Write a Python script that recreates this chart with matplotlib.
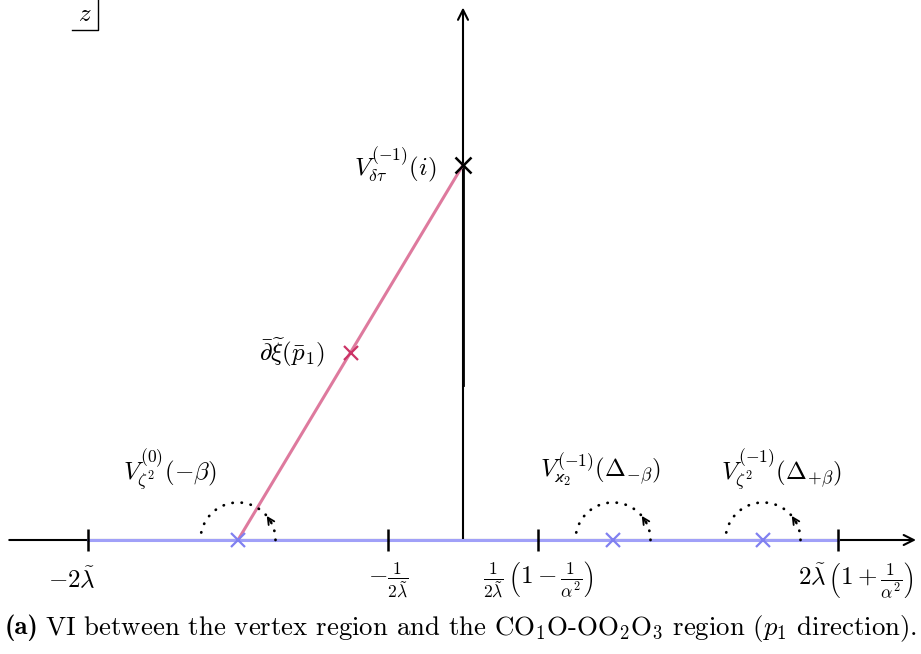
import numpy as np
import matplotlib
matplotlib.use("Agg")
import matplotlib.pyplot as plt
from matplotlib.patches import FancyArrowPatch

plt.rcParams['mathtext.fontset'] = 'cm'
plt.rcParams['font.family'] = 'serif'
plt.rcParams['font.serif'] = ['cmr10']
plt.rcParams['axes.unicode_minus'] = False

# logical units: tick positions on the real axis
tick_x = [-5, -1, 1, 5]
tick_labels = [r'$-2\tilde{\lambda}$',
               r'$-\frac{1}{2\tilde{\lambda}}$',
               r'$\frac{1}{2\tilde{\lambda}}\,\left(1-\frac{1}{\alpha^2}\right)$',
               r'$2\tilde{\lambda}\,\left(1+\frac{1}{\alpha^2}\right)$']
tick_label_x = [-5.21, -1.0, 1.01, 5.24]

# singular points on the real axis (blue) and on the cut (red / black)
real_pts = [-3, 2, 4]
real_labels = [r'$V^{(0)}_{\zeta^2}(-\beta)$',
               r'$V^{(-1)}_{\varkappa_2}(\Delta_{-\beta})$',
               r'$V^{(-1)}_{\zeta^2}(\Delta_{+\beta})$']
real_label_x = [-3.91, 1.83, 4.24]
cut_start = (-3, 0)
cut_end = (0, 5)
mid_pt = (-1.5, 2.5)
arc_r = 0.5

fs = 18

fig = plt.figure(figsize=(9.21, 6.54), dpi=100)
ax = fig.add_axes([0, 0, 1, 1])
ax.set_xlim(-463 / 75, 458 / 75)
ax.set_ylim(-114 / 75, 540 / 75)
ax.axis('off')

# axes with arrows
ax.annotate('', xy=(6.04, 0), xytext=(-6.05, 0), zorder=1,
            arrowprops=dict(arrowstyle='->', lw=1.5, color='black',
                            mutation_scale=18, shrinkA=0, shrinkB=0))
ax.annotate('', xy=(0, 7.1), xytext=(0, 0), zorder=1,
            arrowprops=dict(arrowstyle='->', lw=1.5, color='black',
                            mutation_scale=18, shrinkA=0, shrinkB=0))
ax.plot([0, 0], [2.07, cut_end[1]], color='black', lw=2.0, zorder=3)

# blue segment on real axis
ax.plot([tick_x[0], tick_x[-1]], [0, 0], color='#a0a0f8', lw=2.2, zorder=2)
ax.plot(tick_x, [0] * len(tick_x), ls='none', marker='|', ms=16, mew=1.8,
        color='black', zorder=4)

# cut
ax.plot([cut_start[0], cut_end[0]], [cut_start[1], cut_end[1]],
        color='#de7a9e', lw=2.2, zorder=3)
ax.plot(*mid_pt, marker='x', ms=10, mew=1.6, color='#cc3366', zorder=5)
ax.plot(*cut_end, marker='x', ms=11, mew=1.8, color='black', zorder=5)
ax.plot(real_pts, [0] * len(real_pts), ls='none', marker='x', ms=10,
        mew=1.6, color='#8080f0', zorder=5)

# dotted arcs with arrow
t = np.linspace(0, np.pi, 100)
for p in real_pts:
    ax.plot(p + arc_r * np.cos(t), arc_r * np.sin(t), color='black',
            lw=2, ls=(0, (0.1, 3.2)), dash_capstyle='round', zorder=4)
    a0, a1 = np.radians(26), np.radians(40)
    arr = FancyArrowPatch((p + arc_r * np.cos(a0), arc_r * np.sin(a0)),
                          (p + arc_r * np.cos(a1), arc_r * np.sin(a1)),
                          arrowstyle='->', mutation_scale=12, lw=1.3,
                          color='black', shrinkA=0, shrinkB=0, zorder=4)
    ax.add_patch(arr)

# labels
for x, s in zip(real_label_x, real_labels):
    ax.text(x, 0.93, s, ha='center', va='center', fontsize=fs)
ax.text(-1.84, 2.5, r'$\bar{\partial}\widetilde{\xi}(\bar{p}_1)$',
        ha='right', va='center', fontsize=fs)
ax.text(-0.35, 5.0, r'$V^{(-1)}_{\delta\tau}(i)$', ha='right', va='center',
        fontsize=fs)
for x, s in zip(tick_label_x, tick_labels):
    ax.text(x, -0.53, s, ha='center', va='center', fontsize=fs)

# z box
ax.plot([-5.213, -4.867, -4.867], [6.8, 6.8, 7.2], color='black', lw=1)
ax.text(-5.04, 7.0, r'$z$', ha='center', va='center', fontsize=fs)

# caption: bold "(a)" followed by regular text
cap_y = 1 - 628 / 654
t1 = fig.text(5 / 921, cap_y, '(a)', family='cmb10', fontsize=19.3,
              ha='left', va='center')
fig.canvas.draw()
bb = t1.get_window_extent()
fig.text((bb.x1 + 6) / 921, cap_y,
         r'VI between the vertex region and the '
         r'CO$_1$O-OO$_2$O$_3$ region ($p_1$ direction).',
         ha='left', va='center', fontsize=19.3)

fig.savefig('out.png', dpi=100)
